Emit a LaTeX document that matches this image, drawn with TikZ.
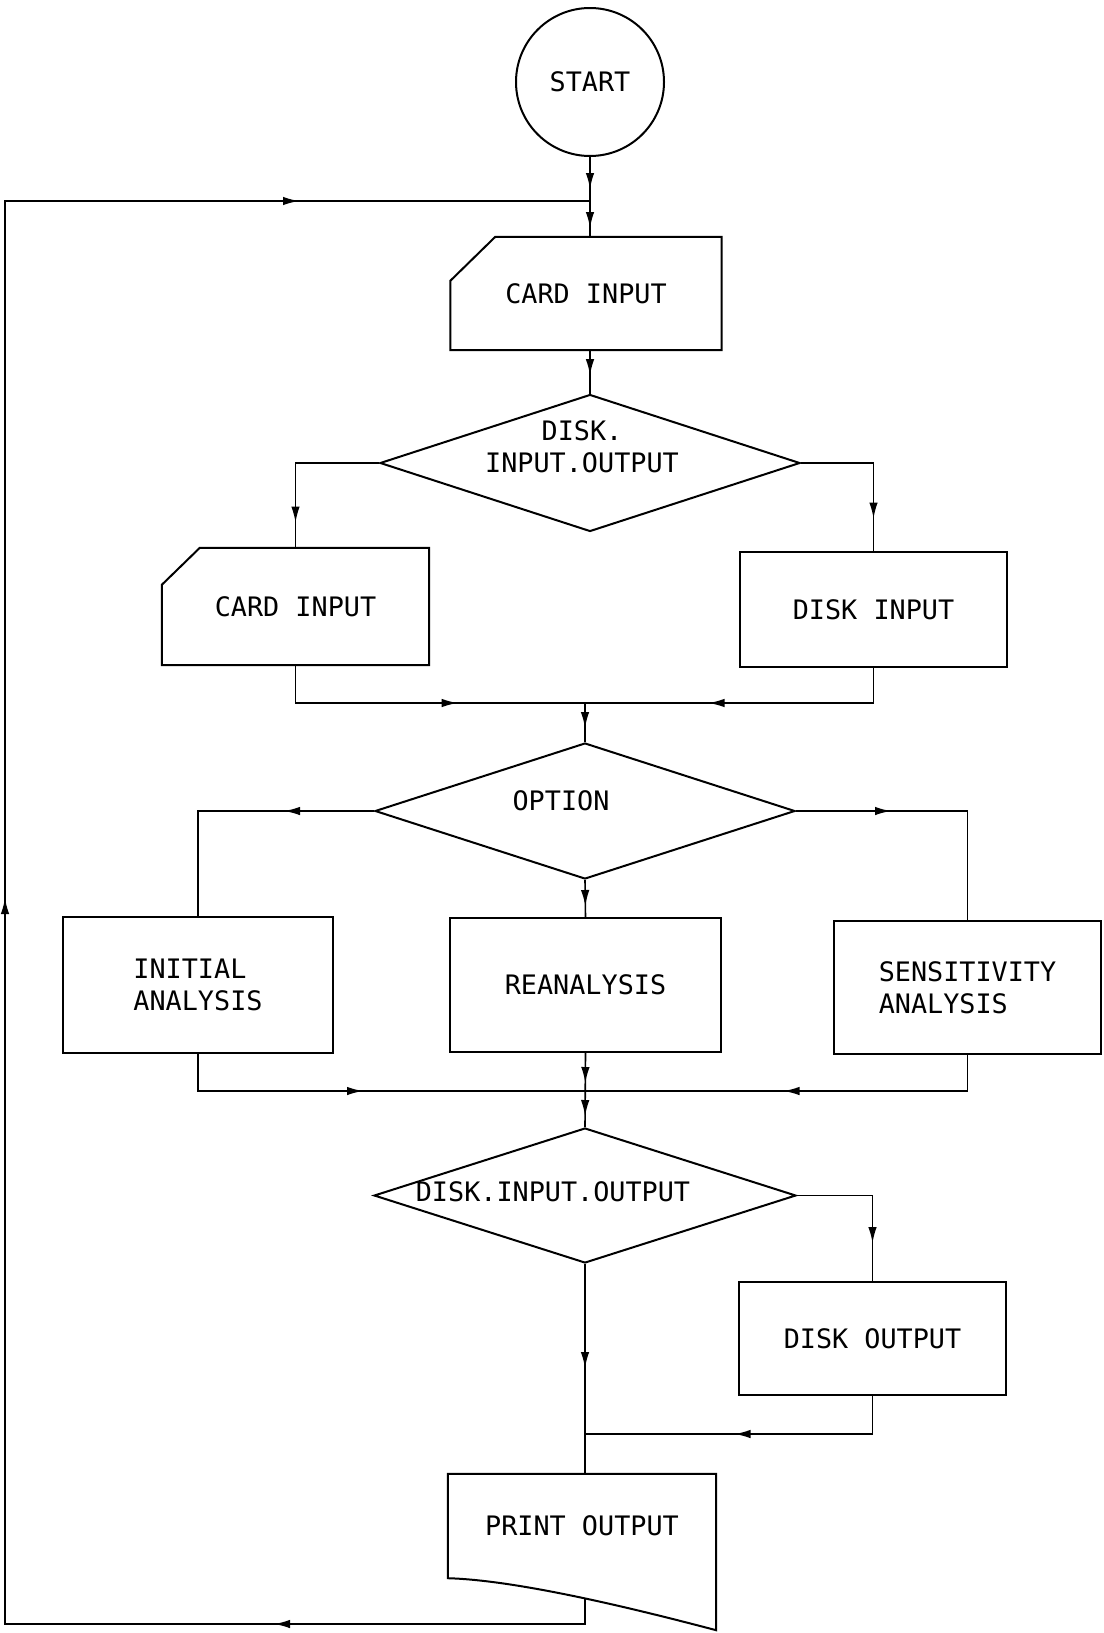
\documentclass[tikz,border=0pt]{standalone}
\usepackage{fontspec}
\newfontfamily\flowfont{DejaVu Sans Mono}
\usetikzlibrary{shapes.geometric,arrows.meta,decorations.markings}
\begin{document}
\begin{tikzpicture}[x=1pt,y=-1pt,
  every node/.style={font=\flowfont\fontsize{26.8}{32}\selectfont},
  blk/.style={draw, line width=2pt, rectangle, inner sep=0pt},
  blank/.style={rectangle, inner sep=0pt},
  dia/.style={draw, line width=2pt, diamond, inner sep=0pt},
  conn/.style={line width=1.6pt},
  arr/.style={postaction={decorate,decoration={markings,mark=at position #1 with {\arrow{Latex[length=16pt,width=8.5pt]}}}}},
  outline/.style={line width=2pt, line join=miter}
]
\useasboundingbox (0,0) rectangle (1103,1633);

% nodes
\node[circle, draw, line width=2pt, minimum size=148pt, inner sep=0pt] (start) at (590,82) {START};

\node[blank, minimum width=271pt, minimum height=113pt] (card1) at (586,293.5) {CARD INPUT};
\draw[outline] ([xshift=45pt]card1.north west) -- (card1.north east) -- (card1.south east) -- (card1.south west) -- ([yshift=-44pt]card1.north west) -- cycle;

\node[dia, minimum width=420pt, minimum height=137pt] (d1) at (590,463) {};
\node[align=center] (t1) at (582,447) {DISK.\\INPUT.OUTPUT};

\node[blank, minimum width=267pt, minimum height=117pt] (card2) at (295.5,606.5) {CARD INPUT};
\draw[outline] ([xshift=38pt]card2.north west) -- (card2.north east) -- (card2.south east) -- (card2.south west) -- ([yshift=-37pt]card2.north west) -- cycle;

\node[blk, minimum width=267pt, minimum height=115pt] (din) at (873.5,609.5) {DISK INPUT};

\coordinate (m1) at (585,703);
\node[dia, minimum width=420pt, minimum height=136pt] (d2) at (585,811) {};
\node (t2) at (561,801) {OPTION};

\node[blk, minimum width=270pt, minimum height=136pt, align=left] (init) at (198,985) {INITIAL\\ANALYSIS};
\node[blk, minimum width=271pt, minimum height=134pt] (rean) at (585.5,985) {REANALYSIS};
\node[blk, minimum width=267pt, minimum height=133pt, align=left] (sens) at (967.5,987.5) {SENSITIVITY\\ANALYSIS};

\coordinate (m2) at (585,1091);
\node[dia, minimum width=422pt, minimum height=135pt] (d3) at (585,1195.5) {};
\node (t3) at (553,1192) {DISK.INPUT.OUTPUT};

\node[blk, minimum width=267pt, minimum height=113pt] (dout) at (872.5,1338.5) {DISK OUTPUT};
\coordinate (m3) at (585,1434);

\node[blank, minimum width=268pt, minimum height=104pt] (po) at (582,1526) {PRINT OUTPUT};
\draw[outline] (po.north west) -- (po.north east) -- ([yshift=-52pt]po.south east)
  .. controls ([xshift=-76pt,yshift=-32pt]po.south east) and ([xshift=72pt,yshift=-2pt]po.south west) .. (po.south west) -- cycle;

\coordinate (poout) at (585,1598);
\coordinate (lb) at (5,1624);
\coordinate (lt) at (5,201);
\coordinate (j0) at (590,201);

% connectors
\draw[conn, arr=32pt, arr=71pt] (start.south) -- (start.south |- card1.north);
\draw[conn, arr=25pt] (start.south |- card1.south) -- (d1.north);
\draw[conn, arr=143pt] (d1.west) -| (card2.north);
\draw[conn, arr=128pt] (d1.east) -| (din.north);
\draw[conn, arr=200pt] (card2.south) |- (m1);
\draw[conn, arr=200pt] (din.south) |- (m1);
\draw[conn, arr=25pt] (m1) -- (d2.north);
\draw[conn, arr=90pt] (d2.west) -| (init.north);
\draw[conn, arr=95pt] (d2.east) -| (sens.north);
\draw[conn, arr=26pt] (d2.south) -- (rean.north);
\draw[conn, arr=202pt] (init.south) |- (m2);
\draw[conn, arr=220pt] (sens.south) |- (m2);
\draw[conn, arr=30pt, arr=63pt] (rean.south) -- (d3.north);
\draw[conn, arr=123pt] (d3.east) -| (dout.north);
\draw[conn, arr=104pt] (d3.south) -- (d3.south |- po.north);
\draw[conn, arr=176pt] (dout.south) |- (m3);
\draw[conn, arr=337pt, arr=1332pt, arr=2323pt] (poout) |- (lb) -- (lt) -- (j0);
\end{tikzpicture}
\end{document}
